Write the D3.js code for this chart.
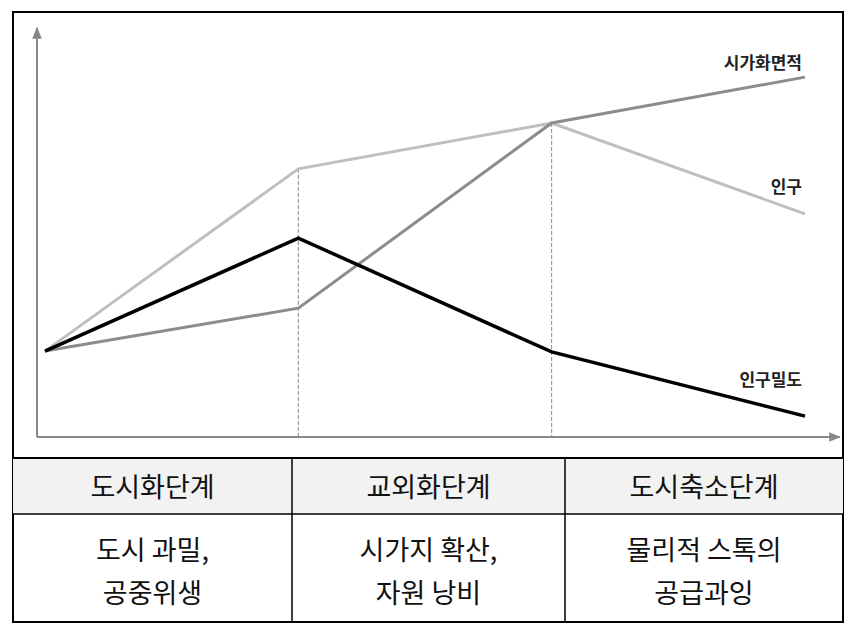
<!DOCTYPE html><html><head><meta charset="utf-8"><script src="https://cdn.jsdelivr.net/npm/d3@7"></script>
<style>body{margin:0;background:#fff}</style></head><body><svg id="c" width="855" height="633"></svg>
<script>
const stages=[0,1,2,3];
const population=[0.206,0.643,0.753,0.535];
const urbanArea=[0.206,0.309,0.753,0.863];
const density=[0.206,0.477,0.204,0.050];
const seriesNames=["인구","시가화면적","인구밀도"];
const phaseNames=["도시화단계","교외화단계","도시축소단계"];
const phaseDesc=[["도시 과밀,","공중위생"],["시가지 확산,","자원 낭비"],["물리적 스톡의","공급과잉"]];
const svg=d3.select("#c");
const font="'Noto Sans CJK KR', sans-serif";
svg.append("rect").attr("x",13).attr("y",12).attr("width",830).attr("height",610).attr("fill","none").attr("stroke","#000").attr("stroke-width",2);
const x=d3.scaleLinear().domain([0,3]).range([45,805]);
const y=d3.scaleLinear().domain([0,1]).range([437,20]);
const defs=svg.append("defs");
defs.append("marker").attr("id","ar").attr("viewBox","0 0 10 10").attr("refX",9).attr("refY",5).attr("markerWidth",6).attr("markerHeight",6).attr("orient","auto")
 .append("path").attr("d","M0,1L10,5L0,9z").attr("fill","#888");
svg.append("line").attr("x1",37).attr("y1",437).attr("x2",37).attr("y2",28).attr("stroke","#888").attr("stroke-width",2).attr("marker-end","url(#ar)");
svg.append("line").attr("x1",37).attr("y1",437).attr("x2",840).attr("y2",437).attr("stroke","#888").attr("stroke-width",2).attr("marker-end","url(#ar)");
[[1,population[1]],[2,urbanArea[2]]].forEach(([i,v])=>{
 svg.append("line").attr("x1",x(i)).attr("x2",x(i)).attr("y1",y(v)).attr("y2",437).attr("stroke","#888").attr("stroke-dasharray","4,2");
});
const line=d3.line().x((d,i)=>x(stages[i])).y(d=>y(d));
[[population,"#bfbfbf",3],[urbanArea,"#8c8c8c",3],[density,"#000",3.5]].forEach(([d,c,w])=>{
 svg.append("path").attr("d",line(d)).attr("fill","none").attr("stroke",c).attr("stroke-width",w);
});
const lab=[[seriesNames[1],802,69],[seriesNames[0],802,193],[seriesNames[2],802,386]];
lab.forEach(([t,xx,yy])=>svg.append("text").attr("x",xx).attr("y",yy).attr("text-anchor","end").attr("font-family",font).attr("font-size",17).attr("font-weight","bold").attr("fill","#222").text(t));
const cols=[13,292,565,843];
svg.append("rect").attr("x",13).attr("y",458).attr("width",830).attr("height",56).attr("fill","#f2f2f2");
[458,514,622].forEach(v=>svg.append("line").attr("x1",13).attr("x2",843).attr("y1",v).attr("y2",v).attr("stroke","#000").attr("stroke-width",v==514?1.5:2));
[292,565].forEach(v=>svg.append("line").attr("x1",v).attr("x2",v).attr("y1",458).attr("y2",622).attr("stroke","#000").attr("stroke-width",1.5));
phaseNames.forEach((p,i)=>{
 const cx=(cols[i]+cols[i+1])/2;
 svg.append("text").attr("x",cx).attr("y",497).attr("text-anchor","middle").attr("font-family",font).attr("font-size",27).attr("fill","#111").text(p);
 phaseDesc[i].forEach((t,j)=>svg.append("text").attr("x",cx).attr("y",560+j*43).attr("text-anchor","middle").attr("font-family",font).attr("font-size",27).attr("fill","#111").text(t));
});
</script></body></html>
